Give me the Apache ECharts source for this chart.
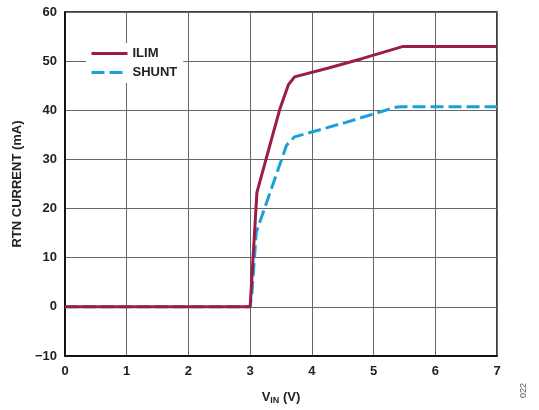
<!DOCTYPE html>
<html><head><meta charset="utf-8">
<script src="https://cdn.jsdelivr.net/npm/echarts@6/dist/echarts.min.js"></script>
<style>html,body{margin:0;padding:0;background:#fff}#c{width:539px;height:410px}</style>
</head><body><div id="c"></div>
<script>
const ilimX = [0, 3.0, 3.02, 3.11, 3.3, 3.48, 3.62, 3.72, 4.27, 4.81, 5.48, 7];
const ilimY = [0, 0, 0, 23.3, 32, 40.2, 45.2, 46.8, 48.6, 50.5, 53.0, 53.0];
const shuntX = [0, 3.0, 3.03, 3.1, 3.23, 3.59, 3.72, 4.54, 5.35, 5.46, 7];
const shuntY = [0, 0, 3, 15.2, 19.9, 32.9, 34.6, 37.5, 40.6, 40.7, 40.7];
const xTicks = [0,1,2,3,4,5,6,7];
const yTicks = [-10,0,10,20,30,40,50,60];

const font = 'Liberation Sans, Arial, sans-serif';
const chart = echarts.init(document.getElementById('c'));
const pair = (xs, ys) => xs.map((x,i)=>[x, ys[i]]);
chart.setOption({
  animation: false,
  grid: {left: 65, top: 12, right: 42, bottom: 53, show: true, borderColor: '#000', borderWidth: 1.5},
  legend: {
    left: 86, top: 43, orient: 'vertical', itemGap: 6, itemWidth: 36, itemHeight: 4,
    backgroundColor: '#fff', padding: [4,6,4,4],
    itemStyle: {opacity: 0},
    lineStyle: {width: 3},
    textStyle: {fontFamily: font, fontWeight: 'bold', fontSize: 13, color: '#222'},
    data: ['ILIM', 'SHUNT']
  },
  xAxis: {
    type: 'value', min: 0, max: 7, interval: 1,
    axisLine: {onZero: false, lineStyle: {color: '#000', width: 1.5}},
    axisTick: {show: false},
    splitLine: {lineStyle: {color: '#666', width: 1}},
    axisLabel: {fontFamily: font, fontWeight: 'bold', fontSize: 13, color: '#222', margin: 9},
    name: '{a|V}{s|IN}{a| (V)}', nameLocation: 'middle', nameGap: 34,
    nameTextStyle: {rich: {
      a: {fontFamily: font, fontWeight: 'bold', fontSize: 13, color: '#222'},
      s: {fontFamily: font, fontWeight: 'bold', fontSize: 9, color: '#222', verticalAlign: 'bottom', padding: [6,0,0,0]}
    }}
  },
  yAxis: {
    type: 'value', min: -10, max: 60, interval: 10,
    axisLine: {show: true, onZero: false, lineStyle: {color: '#000', width: 1.5}},
    axisTick: {show: false},
    splitLine: {lineStyle: {color: '#666', width: 1}},
    axisLabel: {fontFamily: font, fontWeight: 'bold', fontSize: 13, color: '#222', margin: 8,
      formatter: v => String(v).replace('-', '\u2212')},
    name: 'RTN CURRENT (mA)', nameLocation: 'middle', nameGap: 36,
    nameTextStyle: {fontFamily: font, fontWeight: 'bold', fontSize: 13, color: '#222'}
  },
  graphic: [{
    type: 'text', left: 519, top: 383, rotation: Math.PI/2,
    style: {text: '022', fontFamily: font, fontSize: 9, fill: '#555'}
  }],
  series: [
    {name: 'ILIM', type: 'line', data: pair(ilimX, ilimY), showSymbol: false, symbol: 'none',
     lineStyle: {color: '#9E1B48', width: 3}, itemStyle: {color: '#9E1B48'}, z: 3},
    {name: 'SHUNT', type: 'line', data: pair(shuntX, shuntY), showSymbol: false, symbol: 'none',
     lineStyle: {color: '#1BA1DA', width: 3, type: [13,5]}, itemStyle: {color: '#1BA1DA'}, z: 2}
  ]
});
</script></body></html>
